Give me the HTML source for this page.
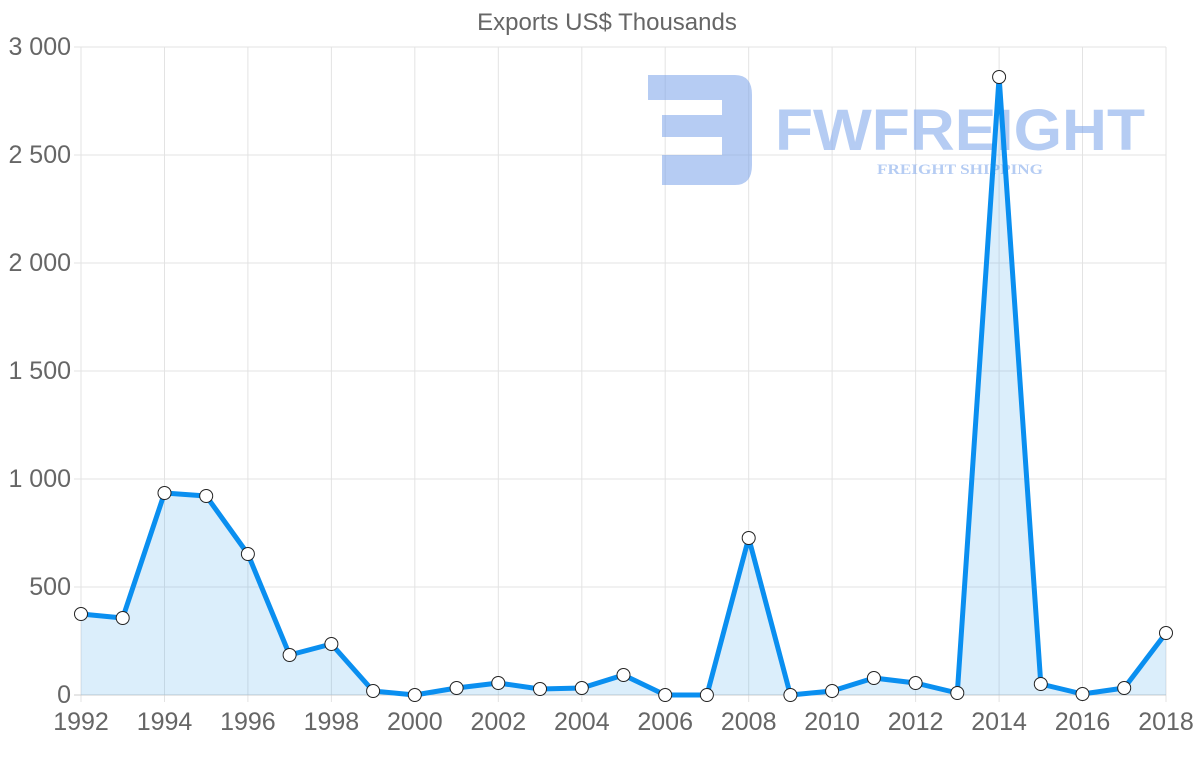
<!DOCTYPE html>
<html><head><meta charset="utf-8"><style>
html,body{margin:0;padding:0;background:#fff;}
svg{display:block;font-family:"Liberation Sans",sans-serif;}
</style></head><body>
<svg width="1200" height="763" viewBox="0 0 1200 763">
<text x="607" y="30" text-anchor="middle" font-size="24" fill="#666">Exports US$ Thousands</text>
<g stroke="#e3e3e3" stroke-width="1">
<line x1="74" y1="47" x2="1166" y2="47"/>
<line x1="74" y1="155" x2="1166" y2="155"/>
<line x1="74" y1="263" x2="1166" y2="263"/>
<line x1="74" y1="371" x2="1166" y2="371"/>
<line x1="74" y1="479" x2="1166" y2="479"/>
<line x1="74" y1="587" x2="1166" y2="587"/>
<line x1="81" y1="47" x2="81" y2="702"/>
<line x1="164.5" y1="47" x2="164.5" y2="702"/>
<line x1="247.9" y1="47" x2="247.9" y2="702"/>
<line x1="331.4" y1="47" x2="331.4" y2="702"/>
<line x1="414.8" y1="47" x2="414.8" y2="702"/>
<line x1="498.3" y1="47" x2="498.3" y2="702"/>
<line x1="581.8" y1="47" x2="581.8" y2="702"/>
<line x1="665.2" y1="47" x2="665.2" y2="702"/>
<line x1="748.7" y1="47" x2="748.7" y2="702"/>
<line x1="832.1" y1="47" x2="832.1" y2="702"/>
<line x1="915.6" y1="47" x2="915.6" y2="702"/>
<line x1="999.1" y1="47" x2="999.1" y2="702"/>
<line x1="1082.5" y1="47" x2="1082.5" y2="702"/>
<line x1="1166" y1="47" x2="1166" y2="702"/>
</g>
<line x1="74" y1="695" x2="1166" y2="695" stroke="#ccc"/>
<g font-size="25" fill="#666" text-anchor="end">
<text x="71" y="55">3 000</text><text x="71" y="163">2 500</text><text x="71" y="271">2 000</text>
<text x="71" y="379">1 500</text><text x="71" y="487">1 000</text><text x="71" y="595">500</text><text x="71" y="703">0</text>
</g>
<g font-size="25" fill="#666" text-anchor="middle">
<text x="81" y="730">1992</text><text x="164.5" y="730">1994</text><text x="247.9" y="730">1996</text>
<text x="331.4" y="730">1998</text><text x="414.8" y="730">2000</text><text x="498.3" y="730">2002</text>
<text x="581.8" y="730">2004</text><text x="665.2" y="730">2006</text><text x="748.7" y="730">2008</text>
<text x="832.1" y="730">2010</text><text x="915.6" y="730">2012</text><text x="999.1" y="730">2014</text>
<text x="1082.5" y="730">2016</text><text x="1166" y="730">2018</text>
</g>
<g opacity="0.55">
<path d="M648 75 H735 Q752 75 752 95 V165 Q752 185 735 185 H662 V155 H722 V137 H662 V115 H722 V100 H648 Z" fill="#7aa3ea"/>
<text x="960" y="150" text-anchor="middle" font-size="58" font-weight="bold" fill="#7aa3ea" textLength="370" lengthAdjust="spacingAndGlyphs">FWFREIGHT</text>
<text x="960" y="174" text-anchor="middle" font-size="15" font-weight="bold" font-family="Liberation Serif,serif" fill="#7aa3ea" textLength="166" lengthAdjust="spacingAndGlyphs">FREIGHT SHIPPING</text>
</g>
<polygon fill="rgba(54,162,235,0.18)" points="81,695 81,614 122.7,618 164.5,493 206.2,496 247.9,554 289.6,655 331.4,644 373.1,691 414.8,695 456.6,688 498.3,683 540,689 581.8,688 623.5,675 665.2,695 706.9,695 748.7,538 790.4,695 832.1,691 873.9,678 915.6,683 957.3,693 999.1,77 1040.8,684 1082.5,694 1124.2,688 1166,633 1166,695"/>
<polyline fill="none" stroke="#0a8ff0" stroke-width="5" stroke-linejoin="round" points="81,614 122.7,618 164.5,493 206.2,496 247.9,554 289.6,655 331.4,644 373.1,691 414.8,695 456.6,688 498.3,683 540,689 581.8,688 623.5,675 665.2,695 706.9,695 748.7,538 790.4,695 832.1,691 873.9,678 915.6,683 957.3,693 999.1,77 1040.8,684 1082.5,694 1124.2,688 1166,633"/>
<g fill="#fff" stroke="#222" stroke-width="1">
<circle cx="81" cy="614" r="6.5"/><circle cx="122.7" cy="618" r="6.5"/><circle cx="164.5" cy="493" r="6.5"/>
<circle cx="206.2" cy="496" r="6.5"/><circle cx="247.9" cy="554" r="6.5"/><circle cx="289.6" cy="655" r="6.5"/>
<circle cx="331.4" cy="644" r="6.5"/><circle cx="373.1" cy="691" r="6.5"/><circle cx="414.8" cy="695" r="6.5"/>
<circle cx="456.6" cy="688" r="6.5"/><circle cx="498.3" cy="683" r="6.5"/><circle cx="540" cy="689" r="6.5"/>
<circle cx="581.8" cy="688" r="6.5"/><circle cx="623.5" cy="675" r="6.5"/><circle cx="665.2" cy="695" r="6.5"/>
<circle cx="706.9" cy="695" r="6.5"/><circle cx="748.7" cy="538" r="6.5"/><circle cx="790.4" cy="695" r="6.5"/>
<circle cx="832.1" cy="691" r="6.5"/><circle cx="873.9" cy="678" r="6.5"/><circle cx="915.6" cy="683" r="6.5"/>
<circle cx="957.3" cy="693" r="6.5"/><circle cx="999.1" cy="77" r="6.5"/><circle cx="1040.8" cy="684" r="6.5"/>
<circle cx="1082.5" cy="694" r="6.5"/><circle cx="1124.2" cy="688" r="6.5"/><circle cx="1166" cy="633" r="6.5"/>
</g>
</svg>
</body></html>
